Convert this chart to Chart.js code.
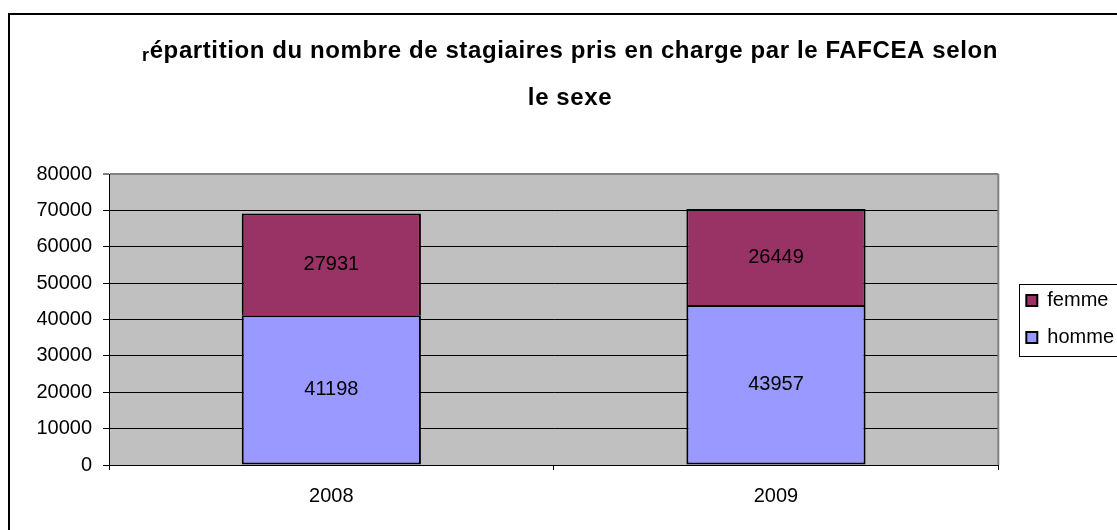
<!DOCTYPE html>
<html>
<head>
<meta charset="utf-8">
<title>Répartition FAFCEA</title>
<script src="https://cdn.jsdelivr.net/npm/chart.js@4/dist/chart.umd.min.js"></script>
<style>
  body { margin: 0; background: #ffffff; }
  canvas { display: block; }
</style>
</head>
<body>
<canvas id="barChart" width="1117" height="530"></canvas>
<script>
// chart data
const years = ['2008', '2009'];
const hommeValues = [41198, 43957];
const femmeValues = [27931, 26449];
const seriesNames = ['homme', 'femme'];
const titleLines = ['répartition du nombre de stagiaires pris en charge par le FAFCEA selon', 'le sexe'];
const yTicks = [0, 10000, 20000, 30000, 40000, 50000, 60000, 70000, 80000];

const FONT = '"Liberation Sans", Arial, sans-serif';

// gray plot background, right border and the outer frame
const backgroundPlugin = {
  id: 'background',
  beforeDraw(chart) {
    const ctx = chart.ctx;
    const a = chart.chartArea;
    ctx.save();
    ctx.fillStyle = '#ffffff';
    ctx.fillRect(0, 0, chart.width, chart.height);
    ctx.fillStyle = '#c0c0c0';
    ctx.fillRect(a.left, a.top, a.right - a.left, a.bottom - a.top);
    ctx.strokeStyle = '#000000';
    ctx.lineWidth = 2;
    ctx.strokeRect(9, 14, 1300, 700);
    ctx.restore();
  },
  afterDraw(chart) {
    const ctx = chart.ctx;
    const a = chart.chartArea;
    ctx.save();
    ctx.strokeStyle = '#808080';
    ctx.lineWidth = 2;
    ctx.beginPath();
    ctx.moveTo(a.right, a.top);
    ctx.lineTo(a.right, a.bottom);
    ctx.stroke();
    ctx.restore();
  }
};

// title, with the small lowered "r" of the original
const titlePlugin = {
  id: 'titleText',
  afterDraw(chart) {
    const ctx = chart.ctx;
    const cx = 570;
    ctx.save();
    ctx.fillStyle = '#000000';
    ctx.textBaseline = 'alphabetic';
    ctx.textAlign = 'left';
    ctx.letterSpacing = '0.6px';

    const first = titleLines[0];
    ctx.font = 'bold 18px ' + FONT;
    const rW = ctx.measureText(first[0]).width;
    ctx.font = 'bold 24px ' + FONT;
    const restW = ctx.measureText(first.slice(1)).width;
    let x = cx - (rW + restW) / 2;
    ctx.font = 'bold 18px ' + FONT;
    ctx.fillText(first[0], x, 61);
    ctx.font = 'bold 24px ' + FONT;
    ctx.fillText(first.slice(1), x + rW, 58);

    const w2 = ctx.measureText(titleLines[1]).width;
    ctx.fillText(titleLines[1], cx - w2 / 2, 105);
    ctx.restore();
  }
};

// value labels in the middle of each bar
const valueLabels = {
  id: 'valueLabels',
  afterDatasetsDraw(chart) {
    const ctx = chart.ctx;
    ctx.save();
    ctx.font = '20px ' + FONT;
    ctx.fillStyle = '#000000';
    ctx.textAlign = 'center';
    ctx.textBaseline = 'middle';
    chart.data.datasets.forEach((ds, i) => {
      chart.getDatasetMeta(i).data.forEach((bar, j) => {
        const p = bar.getCenterPoint();
        ctx.fillText(String(ds.data[j]), p.x, p.y);
      });
    });
    ctx.restore();
  }
};

// move the legend a bit (it sits higher and further right in the original)
// and draw its frame
const legendBox = {
  id: 'legendBox',
  afterLayout(chart) {
    const lg = chart.legend;
    lg.left += 11;
    lg.right += 11;
    lg.top -= 21;
    lg.bottom -= 21;
  },
  afterDraw(chart) {
    const boxes = chart.legend.legendHitBoxes;
    if (!boxes || !boxes.length) return;
    const left = Math.min(...boxes.map(b => b.left)) - 7;
    const top = Math.min(...boxes.map(b => b.top)) - 7;
    const bottom = Math.max(...boxes.map(b => b.top + b.height)) + 8;
    const ctx = chart.ctx;
    ctx.save();
    ctx.strokeStyle = '#000000';
    ctx.lineWidth = 1;
    ctx.strokeRect(Math.round(left) + 0.5, Math.round(top) + 0.5, 200, Math.round(bottom - top));
    ctx.restore();
  }
};

const config = {
  type: 'bar',
  data: {
    labels: years,
    datasets: [
      {
        label: seriesNames[0],
        data: hommeValues,
        backgroundColor: '#9999ff',
        borderColor: '#000000',
        borderWidth: 2,
        borderSkipped: false,
        categoryPercentage: 1,
        barPercentage: 0.403,
      },
      {
        label: seriesNames[1],
        data: femmeValues,
        backgroundColor: '#993366',
        borderColor: '#000000',
        borderWidth: 2,
        borderSkipped: 'bottom',
        categoryPercentage: 1,
        barPercentage: 0.403,
      },
    ],
  },
  options: {
    responsive: false,
    animation: false,
    layout: {
      padding: { top: 174, left: 9, bottom: 24, right: 4 },
    },
    scales: {
      x: {
        stacked: true,
        grid: { drawOnChartArea: false, tickLength: 5, color: '#000000' },
        border: { color: '#000000', width: 1 },
        ticks: { color: '#000000', padding: 14, font: { family: FONT, size: 20 } },
        afterFit: s => { s.height = 41; },
      },
      y: {
        stacked: true,
        min: 0,
        max: 80000,
        afterBuildTicks: s => { s.ticks = yTicks.map(v => ({ value: v })); },
        grid: {
          tickLength: 6,
          color: c => (c.tick && c.tick.value === 80000 ? '#808080' : '#000000'),
          lineWidth: c => (c.tick && c.tick.value === 80000 ? 2 : 1),
        },
        border: { color: '#000000', width: 1 },
        ticks: {
          color: '#000000',
          padding: 11,
          font: { family: FONT, size: 20 },
          callback: v => String(v),
        },
        afterFit: s => { s.width = 100; },
      },
    },
    plugins: {
      title: { display: false },
      tooltip: { enabled: false },
      legend: {
        position: 'right',
        reverse: true,
        labels: {
          color: '#000000',
          boxWidth: 11,
          boxHeight: 11,
          padding: 17,
          font: { family: FONT, size: 20 },
          generateLabels: chart => chart.data.datasets.map((ds, i) => ({
            text: ds.label,
            fillStyle: ds.backgroundColor,
            strokeStyle: '#000000',
            lineWidth: 2,
            datasetIndex: i,
          })),
        },
      },
    },
  },
  plugins: [backgroundPlugin, titlePlugin, valueLabels, legendBox],
};

const ctx = document.getElementById('barChart').getContext('2d');
const barChart = new Chart(ctx, config);
</script>
</body>
</html>
